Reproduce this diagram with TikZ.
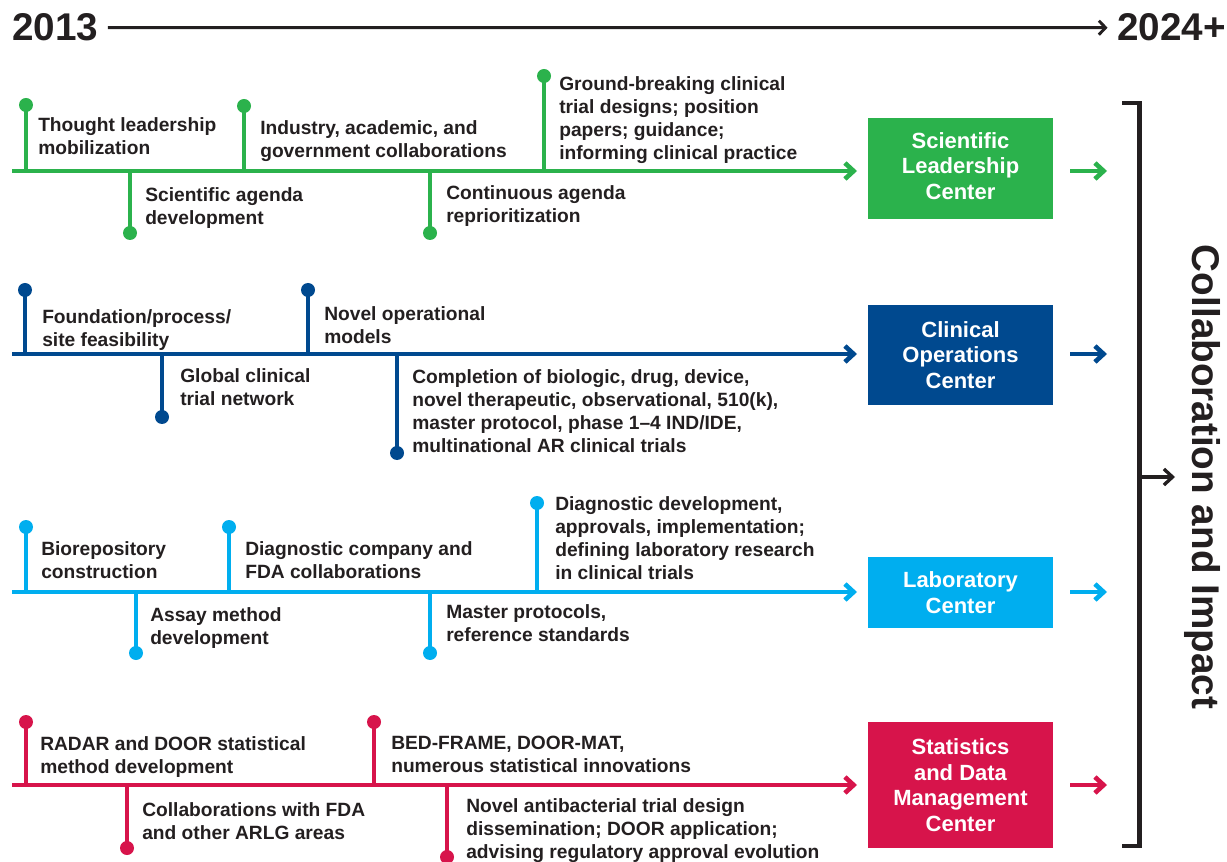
\documentclass[tikz,border=0pt]{standalone}
\usepackage{fontspec}
\setmainfont{Liberation Sans}
\usetikzlibrary{arrows.meta}
\definecolor{cgreen}{RGB}{43,178,76}
\definecolor{cdblue}{RGB}{0,73,143}
\definecolor{clblue}{RGB}{0,174,239}
\definecolor{cred}{RGB}{215,20,75}
\definecolor{ctext}{RGB}{35,31,32}
\tikzset{
  lbl/.style={anchor=north west, inner sep=0pt, align=left, text=ctext,
    font=\bfseries\fontsize{14.4}{17.25}\selectfont},
  centerbox/.style={minimum width=138.75pt, inner sep=0pt, align=center, text=white,
    font=\bfseries\fontsize{16.5}{19.1}\selectfont},
  title/.style={inner sep=0pt, text=ctext, font=\bfseries\fontsize{29}{30}\selectfont},
  tl/.style={line width=3.5pt},
  stem/.style={line width=3.2pt},
  dot/.style={circle, inner sep=0pt, minimum size=10.5pt},
  arr/.style={-{Straight Barb[length=6.5pt,width=12pt]}},
}
\begin{document}
\begin{tikzpicture}[x=0.75pt,y=-0.75pt]
\useasboundingbox (0,0) rectangle (1227,862);

% ---------- title arrow ----------
\node[title, anchor=base west] (y1) at (12,41) {2013};
\node[title, anchor=base east] (y2) at (1226,41) {2024+};
\draw[line width=2.2pt, ctext, -{Straight Barb[length=5pt,width=10.5pt]},
  shorten <=7pt, shorten >=7pt] (y1.east) -- (y2.west);

% ---------- green row ----------
\coordinate (gS) at (12,171);
\coordinate (gE) at (857,171);
\draw[tl, cgreen, arr] (gS) -- (gE);
\node[dot, fill=cgreen] (g1) at (26,105) {};
\node[dot, fill=cgreen] (g2) at (130,233) {};
\node[dot, fill=cgreen] (g3) at (244,106) {};
\node[dot, fill=cgreen] (g4) at (430,233) {};
\node[dot, fill=cgreen] (g5) at (544,76) {};
\foreach \n in {g1,g2,g3,g4,g5} \draw[stem, cgreen] (\n.center) -- (\n |- gS);
\node[lbl] (g1t) at (38,117) {Thought leadership\\mobilization};
\node[lbl] (g2t) at (145,187) {Scientific agenda\\development};
\node[lbl] (g3t) at (260,120) {Industry, academic, and\\government collaborations};
\node[lbl] (g4t) at (446,185) {Continuous agenda\\reprioritization};
\node[lbl] (g5t) at (559,76) {Ground-breaking clinical\\trial designs; position\\papers; guidance;\\informing clinical practice};
\node[centerbox, fill=cgreen, minimum height=75.75pt] (gbox) at (960.5,168.5) {};
\node[centerbox] (gboxt) at (960.5,166) {Scientific\\Leadership\\Center};
\coordinate (ga1) at (1070,171);
\coordinate (ga2) at (1107,171);
\draw[tl, cgreen, arr] (ga1) -- (ga2);

% ---------- dark blue row ----------
\coordinate (bS) at (12,354);
\coordinate (bE) at (857,354);
\draw[tl, cdblue, arr] (bS) -- (bE);
\node[dot, fill=cdblue] (b1) at (25,290) {};
\node[dot, fill=cdblue] (b2) at (162,417) {};
\node[dot, fill=cdblue] (b3) at (308,290) {};
\node[dot, fill=cdblue] (b4) at (397,453) {};
\foreach \n in {b1,b2,b3,b4} \draw[stem, cdblue] (\n.center) -- (\n |- bS);
\node[lbl] (b1t) at (42,309) {Foundation/process/\\site feasibility};
\node[lbl] (b2t) at (180,368) {Global clinical\\trial network};
\node[lbl] (b3t) at (324,306) {Novel operational\\models};
\node[lbl] (b4t) at (412,369) {Completion of biologic, drug, device,\\novel therapeutic, observational, 510(k),\\master protocol, phase 1--4 IND/IDE,\\multinational AR clinical trials};
\node[centerbox, fill=cdblue, minimum height=75pt] (bbox) at (960.5,355) {Clinical\\Operations\\Center};
\coordinate (ba1) at (1070,354);
\coordinate (ba2) at (1107,354);
\draw[tl, cdblue, arr] (ba1) -- (ba2);

% ---------- light blue row ----------
\coordinate (lS) at (12,592);
\coordinate (lE) at (857,592);
\draw[tl, clblue, arr] (lS) -- (lE);
\node[dot, fill=clblue] (l1) at (26,527) {};
\node[dot, fill=clblue] (l2) at (136,653) {};
\node[dot, fill=clblue] (l3) at (229,527) {};
\node[dot, fill=clblue] (l4) at (430,653) {};
\node[dot, fill=clblue] (l5) at (537,503) {};
\foreach \n in {l1,l2,l3,l4,l5} \draw[stem, clblue] (\n.center) -- (\n |- lS);
\node[lbl] (l1t) at (41,541) {Biorepository\\construction};
\node[lbl] (l2t) at (150,607) {Assay method\\development};
\node[lbl] (l3t) at (245,541) {Diagnostic company and\\FDA collaborations};
\node[lbl] (l4t) at (446,604) {Master protocols,\\reference standards};
\node[lbl] (l5t) at (555,496) {Diagnostic development,\\approvals, implementation;\\defining laboratory research\\in clinical trials};
\node[centerbox, fill=clblue, minimum height=53.25pt] (lbox) at (960.5,592.5) {Laboratory\\Center};
\coordinate (la1) at (1070,592);
\coordinate (la2) at (1107,592);
\draw[tl, clblue, arr] (la1) -- (la2);

% ---------- red row ----------
\coordinate (rS) at (12,785);
\coordinate (rE) at (857,785);
\draw[tl, cred, arr] (rS) -- (rE);
\node[dot, fill=cred] (r1) at (26,722) {};
\node[dot, fill=cred] (r2) at (127,848) {};
\node[dot, fill=cred] (r3) at (374,722) {};
\node[dot, fill=cred] (r4) at (447,857) {};
\foreach \n in {r1,r2,r3,r4} \draw[stem, cred] (\n.center) -- (\n |- rS);
\node[lbl] (r1t) at (40,736) {RADAR and DOOR statistical\\method development};
\node[lbl] (r2t) at (142,802) {Collaborations with FDA\\and other ARLG areas};
\node[lbl] (r3t) at (391,736) {BED-FRAME, DOOR-MAT,\\numerous statistical innovations};
\node[lbl] (r4t) at (466,798) {Novel antibacterial trial design\\dissemination; DOOR application;\\advising regulatory approval evolution};
\node[centerbox, fill=cred, minimum height=94.5pt] (rbox) at (960.5,785) {Statistics\\and Data\\Management\\Center};
\coordinate (ra1) at (1070,785);
\coordinate (ra2) at (1107,785);
\draw[tl, cred, arr] (ra1) -- (ra2);

% ---------- bracket ----------
\coordinate (bkt1) at (1122,103);
\coordinate (bkt2) at (1139.5,103);
\coordinate (bkt3) at (1139.5,846);
\coordinate (bkt4) at (1122,846);
\draw[line width=3.6pt, ctext] (bkt1) -- (bkt2) -- (bkt3) -- (bkt4);
\coordinate (bm1) at (1139.5,477);
\coordinate (bm2) at (1175,477);
\draw[line width=2.5pt, ctext, arr] (bm1) -- (bm2);
\node[rotate=-90, anchor=base, inner sep=0pt, text=ctext,
  font=\bfseries\fontsize{29}{32}\selectfont] (collab) at (1192,477) {Collaboration and Impact};
\end{tikzpicture}
\end{document}
